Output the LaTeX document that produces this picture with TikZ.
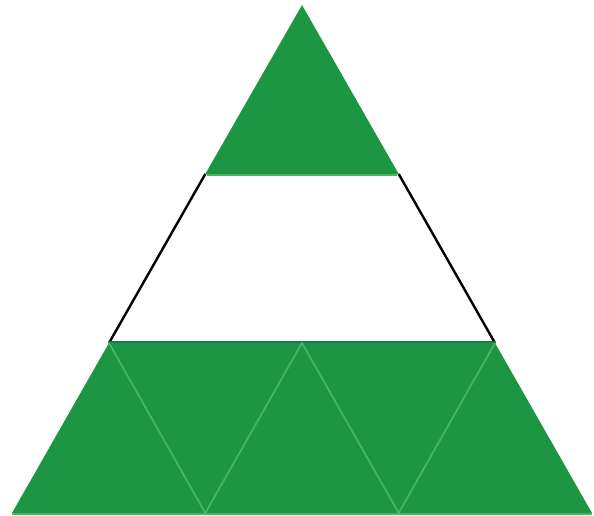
\documentclass[tikz,border=0pt]{standalone}
\begin{document}
\begin{tikzpicture}[x=1pt,y=-1pt,
  tri/.style={fill=tgreen, draw=none},
  seam/.style={draw=lgreen, line width=1.8pt, line cap=round},
  sideline/.style={draw=black, line width=2.4pt}]
\definecolor{tgreen}{RGB}{28,150,66}
\definecolor{lgreen}{RGB}{72,182,92}
\definecolor{dgreen}{RGB}{20,120,80}
\useasboundingbox (0,0) rectangle (594,515);
% coordinates
\coordinate (A) at (302,5);
\coordinate (L1) at (205.3,174);
\coordinate (R1) at (398.7,174);
\coordinate (L2) at (109,343);
\coordinate (M2) at (302,343);
\coordinate (R2) at (495,343);
\coordinate (B0) at (12,513);
\coordinate (B1) at (205.3,513);
\coordinate (B2) at (398.7,513);
\coordinate (B3) at (592,513);
% black sides of the middle band
\draw[sideline] (L1) -- (L2);
\draw[sideline] (R1) -- (R2);
% top triangle
\fill[tri] (A) -- (R1) -- (L1) -- cycle;
\draw[draw=lgreen, line width=1.4pt] ([xshift=2pt,yshift=-1pt]L1) -- ([xshift=-2pt,yshift=-1pt]R1);
% bottom row
\fill[tri] (L2) -- (R2) -- (B3) -- (B0) -- cycle;
\draw[draw=dgreen, line width=1.2pt] ([yshift=1pt]L2) -- ([yshift=1pt]R2);
\draw[draw=lgreen, line width=1.2pt] ([yshift=-1pt]B0) -- ([yshift=-1pt]B3);
% seams between small triangles
\draw[seam] (L2) -- (B1);
\draw[seam] (B1) -- (M2);
\draw[seam] (M2) -- (B2);
\draw[seam] (B2) -- (R2);
\end{tikzpicture}
\end{document}
